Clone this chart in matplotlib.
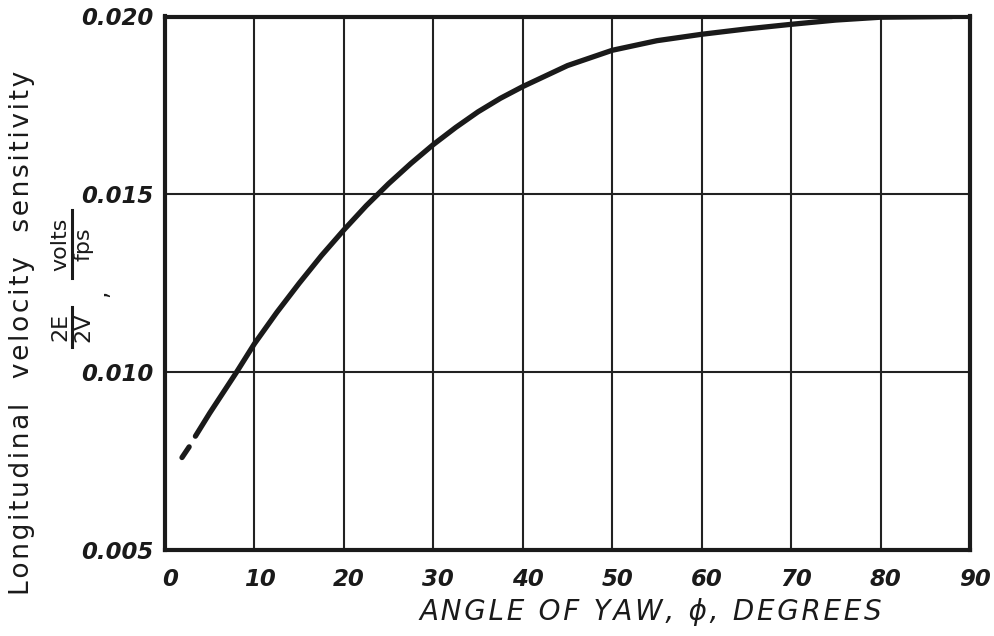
import matplotlib
matplotlib.use("Agg")
import matplotlib.pyplot as plt
from matplotlib.lines import Line2D
from matplotlib.transforms import ScaledTranslation

# Longitudinal velocity sensitivity vs. angle of yaw
# short leading segment (extrapolated end of the curve)
yaw_start = [1.9, 2.7]
sens_start = [0.0076, 0.0079]

# main curve
yaw = [3.4, 5, 8, 10, 12.5, 15, 17.5, 20, 22.5, 25, 27.5, 30, 32.5, 35,
       37.5, 40, 45, 50, 55, 60, 65, 70, 75, 80, 88]
sens = [0.0082, 0.00885, 0.0100, 0.0108, 0.01168, 0.0125, 0.01328, 0.0140,
        0.01468, 0.0153, 0.01587, 0.0164, 0.01688, 0.01732, 0.0177,
        0.01803, 0.01862, 0.01905, 0.01932, 0.0195, 0.01965, 0.01978,
        0.0199, 0.01998, 0.0200]

x_ticks = [0, 10, 20, 30, 40, 50, 60, 70, 80, 90]
y_ticks = [0.005, 0.010, 0.015, 0.020]
y_tick_labels = ["0.005", "0.010", "0.015", "0.020"]

INK = "#1a1a1a"
W, H = 995, 636


def tracked(s, gap="\u200a"):
    """Spread letters apart with hair spaces."""
    return gap.join(s)


def px(x, y):
    """Pixel position (from top-left) to figure fraction."""
    return x / W, 1 - y / H


fig = plt.figure(figsize=(W / 100, H / 100), dpi=100)
ax = fig.add_axes([165 / W, 1 - 550 / H, 805 / W, 533.5 / H])

ax.plot(yaw_start, sens_start, color=INK, lw=3.8, solid_capstyle="round", zorder=3)
ax.plot(yaw, sens, color=INK, lw=3.8, solid_capstyle="round",
        solid_joinstyle="round", zorder=3)

ax.set_xlim(0, 90)
ax.set_ylim(0.005, 0.020)
ax.set_xticks(x_ticks)
ax.set_yticks(y_ticks)
ax.set_yticklabels(y_tick_labels)
ax.grid(True, color="#222222", lw=1.5)
ax.set_axisbelow(True)
for s in ax.spines.values():
    s.set_linewidth(3.0)
    s.set_color(INK)
ax.tick_params(length=0)
ax.tick_params(axis="x", pad=13)
ax.tick_params(axis="y", pad=8)

tick_font = dict(family="DejaVu Sans", style="oblique", weight="bold", size=16.5, color=INK)
shift = ScaledTranslation(5 / 100, 0, fig.dpi_scale_trans)
for lbl in ax.get_xticklabels():
    lbl.set(**tick_font)
    lbl.set_transform(lbl.get_transform() + shift)
for lbl in ax.get_yticklabels():
    lbl.set(**tick_font)

# x-axis title
fig.text(*px(651, 612), tracked("ANGLE OF YAW, \u03d5, DEGREES"),
         ha="center", va="center", fontsize=20, style="oblique",
         family="DejaVu Sans", color=INK)

# y-axis title, first line
fig.text(*px(22, 333), tracked("Longitudinal  velocity  sensitivity"),
         rotation=90, ha="center", va="center", fontsize=19,
         family="DejaVu Sans", color=INK)

# y-axis title, second line: two stacked fractions
frac_font = dict(rotation=90, ha="center", va="center", fontsize=16,
                 family="DejaVu Sans", color=INK)


def fraction(num, den, y_center, half_len, x_bar=72.5):
    fig.text(*px(x_bar - 12, y_center), num, **frac_font)
    fig.text(*px(x_bar + 11, y_center), den, **frac_font)
    x0, y0 = px(x_bar, y_center + half_len)
    x1, y1 = px(x_bar, y_center - half_len)
    fig.add_artist(Line2D([x0, x1], [y0, y1], transform=fig.transFigure,
                          color=INK, lw=2.2))


fraction("2E", "2V", 327, 20)
fraction("volts", "fps", 244, 34)
fig.text(*px(99, 293), ",", rotation=90, ha="center", va="center",
         fontsize=17, family="DejaVu Sans", color=INK)

fig.savefig("out.png", dpi=100)
